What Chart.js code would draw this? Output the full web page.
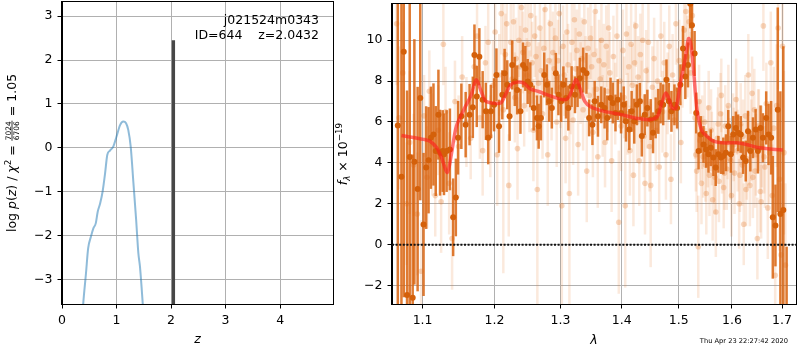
<!DOCTYPE html>
<html>
<head>
<meta charset="utf-8">
<title>j021524m0343 ID 644</title>
<script src="https://cdn.jsdelivr.net/npm/chart.js@4.4.1/dist/chart.umd.min.js"></script>
<style>
  body { margin: 0; background: #fff; }
  #wrap { position: relative; width: 800px; height: 350px; overflow: hidden; }
  canvas { position: absolute; top: 0; }
  #pz { left: 0; }
  #spec { left: 334px; }
</style>
</head>
<body>
<div id="wrap">
  <canvas id="pz" width="340" height="350"></canvas>
  <canvas id="spec" width="466" height="350"></canvas>
</div>
<script>
// ---- p(z) panel ----
const fieldName = 'j021524m0343';
const objId = 644;
const zBest = 2.0432;
const zLineTop = 2.45;
const chi2Num = 7024, chi2Den = 6706;
const zGrid = [0.35, 0.39, 0.44, 0.48, 0.53, 0.575, 0.62, 0.655, 0.70, 0.745,
               0.79, 0.83, 0.88, 0.94, 1.0, 1.065, 1.125, 1.175, 1.215, 1.26,
               1.31, 1.36, 1.40, 1.43, 1.48, 1.52];
const logPz = [-4.3, -3.53, -2.85, -2.28, -2.02, -1.83, -1.71, -1.45, -1.26, -0.99,
               -0.58, -0.16, -0.06, 0.03, 0.26, 0.52, 0.60, 0.56, 0.41, 0.03,
               -0.80, -1.64, -2.39, -2.70, -3.53, -4.3];
const zTicks = [0, 1, 2, 3, 4];
const pzTicks = [-3, -2, -1, 0, 1, 2, 3];
const zRange = [0, 4.97];
const pzRange = [-3.55, 3.32];

// ---- spectrum panel ----
const lamTicks = [1.1, 1.2, 1.3, 1.4, 1.5, 1.6, 1.7];
const fluxTicks = [-2, 0, 2, 4, 6, 8, 10];
const lamRange = [1.06, 1.729];
const fluxRange = [-2.9, 11.77];
const stamp = 'Thu Apr 23 22:27:42 2020';

// binned spectrum (dark points)
const binWave = [
  1.0675, 1.0722, 1.0752, 1.0795, 1.0830, 1.0869, 1.0891, 1.0934, 1.0969, 1.1013,
  1.1048, 1.1080, 1.1111, 1.1146, 1.1177, 1.1213, 1.1235, 1.1271, 1.1289, 1.1325,
  1.1370, 1.1415, 1.1452, 1.1483, 1.1529, 1.1589, 1.1644, 1.1690, 1.1713, 1.1746,
  1.1783, 1.1830, 1.1877, 1.1910, 1.1948, 1.1995, 1.2029, 1.2067, 1.2115, 1.2149,
  1.2188, 1.2222, 1.2261, 1.2300, 1.2335, 1.2384, 1.2423, 1.2458, 1.2493, 1.2533,
  1.2584, 1.2634, 1.2660, 1.2695, 1.2746, 1.2787, 1.2823, 1.2864, 1.2926, 1.2967,
  1.3009, 1.3045, 1.3087, 1.3124, 1.3176, 1.3229, 1.3271, 1.3308, 1.3361, 1.3415,
  1.3458, 1.3512, 1.3549, 1.3603, 1.3658, 1.3713, 1.3757, 1.3812, 1.3850, 1.3895,
  1.3933, 1.3989, 1.4034, 1.4073, 1.4129, 1.4169, 1.4214, 1.4259, 1.4311, 1.4345,
  1.4396, 1.4442, 1.4500, 1.4541, 1.4587, 1.4634, 1.4675, 1.4722, 1.4780, 1.4822,
  1.4869, 1.4923, 1.4971, 1.5031, 1.5079, 1.5121, 1.5170, 1.5212, 1.5243, 1.5292,
  1.5322, 1.5365, 1.5408, 1.5458, 1.5507, 1.5551, 1.5594, 1.5644, 1.5688, 1.5738,
  1.5789, 1.5833, 1.5884, 1.5928, 1.5979, 1.6024, 1.6075, 1.6120, 1.6172, 1.6217,
  1.6269, 1.6314, 1.6360, 1.6412, 1.6465, 1.6511, 1.6564, 1.6611, 1.6677, 1.6724,
  1.6777, 1.6811, 1.6865, 1.6912, 1.6966, 1.7027, 1.7095];
const binFlux = [
  5.83, 3.32, 9.43, -2.46, 4.29, -2.59, 4.05, 2.72, 7.17, 0.99,
  3.77, 4.13, 5.23, 5.39, 4.58, 6.36, 4.50, 4.58, 4.42, 4.58,
  4.66, 1.34, 2.31, 5.23, 6.28, 5.87, 6.36, 6.72, 9.27, 7.25,
  9.19, 7.09, 6.52, 5.23, 6.52, 6.84, 8.30, 5.79, 7.33, 8.38,
  7.82, 6.28, 8.79, 7.98, 7.57, 6.52, 8.79, 8.62, 7.98, 7.82,
  6.68, 6.20, 5.79, 6.20, 8.30, 7.82, 7.01, 6.68, 8.38, 7.33,
  7.01, 7.82, 7.17, 6.68, 7.73, 7.33, 7.73, 8.14, 8.54, 8.38,
  6.20, 5.87, 7.01, 6.28, 6.84, 6.68, 6.20, 7.17, 6.93, 6.44,
  7.09, 6.44, 6.84, 6.04, 5.63, 6.52, 6.04, 6.84, 7.01, 5.31,
  6.36, 6.68, 6.12, 5.47, 6.20, 6.52, 6.93, 6.84, 8.06, 7.01,
  6.52, 6.84, 6.68, 7.82, 9.60, 8.22, 8.79, 11.78, 10.73, 9.35,
  6.44, 4.58, 5.39, 4.90, 4.66, 4.42, 4.74, 4.26, 3.77, 4.42,
  4.26, 4.34, 4.50, 5.79, 4.42, 5.39, 5.71, 5.47, 5.39, 4.26,
  4.09, 5.55, 4.58, 5.23, 5.63, 4.58, 5.71, 5.23, 6.20, 5.39,
  5.23, 1.34, 0.94, 6.60, 1.50, 1.70, -4.5];
const binErr = [
  12, 12, 12, 10, 8, 7, 6, 5, 5, 3.5,
  3, 2.6, 2.5, 2.5, 2.2, 2.2, 2.1, 2.0, 2.0, 2.0,
  2.0, 1.9, 1.9, 1.8, 1.6, 1.6, 1.5, 1.5, 1.5, 1.5,
  1.4, 1.4, 1.4, 1.3, 1.3, 1.3, 1.3, 1.3, 1.2, 1.2,
  1.2, 1.2, 1.2, 1.2, 1.2, 1.1, 1.1, 1.1, 1.1, 1.1,
  1.1, 1.1, 1.1, 1.1, 1.1, 1.0, 1.0, 1.0, 1.0, 1.0,
  1.0, 0.9, 1.0, 1.1, 1.0, 0.9, 1.0, 1.0, 1.1, 1.0,
  0.9, 1.0, 1.0, 1.0, 0.9, 1.0, 1.1, 1.0, 1.0, 0.9,
  1.0, 1.0, 0.9, 1.0, 1.0, 1.0, 1.1, 1.0, 0.9, 1.0,
  1.0, 0.9, 1.0, 1.0, 1.0, 1.1, 1.0, 1.0, 1.0, 0.9,
  1.0, 1.0, 1.0, 1.0, 1.1, 1.1, 1.1, 1.2, 1.2, 1.1,
  1.0, 0.9, 0.9, 0.9, 0.9, 0.9, 0.9, 0.9, 0.9, 0.9,
  0.8, 0.9, 0.9, 0.8, 0.9, 0.9, 0.8, 0.9, 0.9, 0.8,
  1.0, 1.0, 1.0, 1.0, 1.0, 1.1, 1.1, 1.2, 1.3, 1.5,
  1.8, 3.0, 2.0, 5.0, 6.0, 8.0, 4.4];

// individual exposures (light points)
const rawWave = [
  1.066, 1.069, 1.074, 1.079, 1.083, 1.088, 1.093, 1.098,
  1.102, 1.106, 1.109, 1.113, 1.117, 1.121, 1.125, 1.128, 1.131, 1.136, 1.140, 1.144, 1.149, 1.154, 1.160, 1.166,
  1.171, 1.175, 1.179, 1.183, 1.187, 1.191, 1.194, 1.198, 1.201, 1.204, 1.207, 1.210, 1.213, 1.216, 1.218, 1.221,
  1.224, 1.226, 1.228, 1.230, 1.232, 1.234, 1.236, 1.238, 1.240, 1.242,
  1.244, 1.246, 1.248, 1.250, 1.252, 1.254, 1.256, 1.258, 1.260, 1.262,
  1.264, 1.266, 1.268, 1.270, 1.272, 1.274, 1.276, 1.278, 1.280, 1.282,
  1.284, 1.286, 1.288, 1.290, 1.292, 1.294, 1.296, 1.298, 1.300, 1.302,
  1.304, 1.306, 1.308,
  1.310, 1.312, 1.314, 1.316, 1.318, 1.320, 1.322, 1.324, 1.326, 1.328,
  1.330, 1.332, 1.334, 1.336, 1.338, 1.340, 1.342, 1.344, 1.346, 1.348,
  1.350, 1.352, 1.354, 1.356, 1.358, 1.360, 1.362, 1.364, 1.366, 1.368,
  1.370, 1.372, 1.374, 1.376, 1.378, 1.380, 1.383, 1.386, 1.389, 1.392,
  1.395, 1.397, 1.399,
  1.402, 1.404, 1.406, 1.408, 1.410, 1.412, 1.414, 1.416, 1.418, 1.420,
  1.422, 1.424, 1.426, 1.428, 1.430, 1.432, 1.434, 1.436, 1.438, 1.440,
  1.442, 1.444, 1.446, 1.448, 1.450, 1.453, 1.456, 1.459, 1.462, 1.465,
  1.468, 1.471, 1.474, 1.477, 1.480, 1.483, 1.486, 1.489, 1.492, 1.495,
  1.498, 1.501, 1.504, 1.507, 1.510, 1.513, 1.516, 1.519, 1.522, 1.525,
  1.530, 1.533, 1.536, 1.539, 1.542, 1.545, 1.548, 1.551, 1.554, 1.557,
  1.560, 1.563, 1.566, 1.569, 1.572, 1.575, 1.578, 1.581, 1.584, 1.587,
  1.590, 1.593, 1.596, 1.599,
  1.5315, 1.5375, 1.5435, 1.5495, 1.5555, 1.5615, 1.5675, 1.5735, 1.5795, 1.5855, 1.5915, 1.5975,
  1.602, 1.605, 1.608, 1.611, 1.614, 1.617, 1.620, 1.623, 1.626, 1.629,
  1.632, 1.635, 1.638, 1.641, 1.644, 1.647, 1.650, 1.653, 1.656, 1.659,
  1.662, 1.665, 1.668, 1.671, 1.674, 1.677, 1.680, 1.683, 1.686, 1.689,
  1.692, 1.695, 1.698, 1.701, 1.704, 1.707,
  1.6035, 1.6095, 1.6155, 1.6215, 1.6275, 1.6335, 1.6395, 1.6455, 1.6515, 1.6575, 1.6635];
const rawFlux = [
  10.8, 6.2, 8.4, 2.0, 5.0, 3.9, 1.5, -1.3,
  6.3, 3.3, 7.5, 4.9, 2.4, 5.6, 2.1, 9.8, 6.5, 3.0, 0.3, 7.0, 4.8, 8.2, 6.0, 5.2,
  8.7, 10.2, 6.2, 4.6, 8.9, 9.9, 5.3, 7.8, 10.4, 4.4, 8.3, 11.3, 6.6, 9.3, 10.8, 2.9,
  9.9, 8.1, 10.9, 7.2, 9.1, 4.7, 10.0, 8.7, 11.6, 9.4,
  6.8, 10.5, 8.3, 9.8, 7.5, 11.2, 8.9, 5.6, 10.2, 9.2,
  2.7, 7.9, 10.6, 8.5, 6.4, 9.6, 11.5, 8.0, 4.4, 9.0,
  10.8, 7.1, 9.4, 8.6, 10.1, 6.0, 9.0, 11.3, 7.7, 1.9,
  9.7, 8.3, 5.2,
  10.4, 8.8, 2.5, 7.4, 9.9, 6.1, 11.0, 8.6, 9.5, 4.9,
  10.3, 7.9, 9.1, 6.6, 10.9, 8.2, 3.6, 9.6, 7.3, 10.1,
  8.7, 5.5, 9.3, 11.4, 7.6, 4.3, 9.0, 8.1, 10.0, 6.3,
  8.8, 5.0, 9.7, 7.5, 10.6, 8.4, 4.1, 9.2, 6.9, 10.2,
  1.1, 8.0, 5.8,
  9.5, 7.2, 1.9, 10.3, 6.4, 8.7, 4.6, 9.8, 7.8, 3.4,
  8.9, 10.7, 6.0, 8.2, 4.1, 9.3, 7.0, 10.0, 5.3, 3.0,
  8.5, 6.7, 9.9, 4.8, 2.9, 7.7, 9.1, 5.6, 8.0, 3.8,
  10.2, 6.5, 8.9, 4.4, 7.4, 9.7, 3.2, 8.3, 6.1, 10.8,
  7.6, 9.0, 5.0, 8.7, 10.5, 11.4, 9.2, 10.9, 8.4, 11.2,
  6.2, 3.6, -0.1, 5.1, 3.0, 4.3, 6.0, 2.5, 4.8, 3.4,
  5.6, 2.2, 4.0, 1.6, 5.2, 3.1, 6.4, 4.5, 2.8, 5.8,
  3.7, 6.8, 4.2, 2.4,
  4.4, 7.0, 5.5, 3.9, 6.7, 4.7, 3.3, 5.9, 7.3, 3.5, 5.0, 4.1,
  5.4, 3.5, 7.1, 4.6, 2.0, 5.9, 3.9, 1.0, 6.3, 4.2,
  8.3, 2.9, 5.1, 3.3, 6.6, 4.4, 0.3, 5.6, 2.6, 4.8,
  10.7, 3.8, 6.9, 1.8, 4.5, 8.9, 2.4, 5.7, -1.5, 6.8,
  10.6, 3.2, -0.5, 9.7, 4.5, -1.0,
  4.9, 6.2, 3.4, 5.3, 2.7, 4.7, 7.4, 3.6, 5.8, 2.1, 4.3];
const rawErr = [
  3.0, 3.5, 2.5, 3.0, 3.5, 2.5, 3.0, 2.5,
  2.0, 2.5, 2.0, 2.5, 2.0, 2.2, 2.5, 2.0, 2.2, 2.5, 2.5, 2.0, 2.5, 2.0, 2.2, 2.0,
  1.8, 2.0, 2.0, 2.2, 1.8, 2.0, 2.0, 2.2, 2.0, 2.5, 2.0, 2.0, 8.0, 2.0, 1.8, 2.5,
  2.0, 1.8, 2.0, 2.2, 2.0, 2.5, 1.8, 2.0, 2.2, 2.0,
  2.0, 2.0, 1.8, 2.2, 2.0, 2.0, 2.0, 2.5, 2.0, 2.0,
  7.0, 2.0, 2.0, 2.0, 2.2, 2.0, 2.0, 2.0, 2.5, 2.0,
  2.0, 2.0, 2.0, 2.0, 2.0, 2.2, 2.0, 2.0, 2.0, 5.0,
  2.0, 2.0, 2.2,
  2.0, 2.0, 5.5, 2.0, 2.0, 2.2, 2.0, 2.0, 2.0, 2.5,
  2.0, 2.0, 2.0, 2.0, 2.0, 2.0, 2.5, 2.0, 2.0, 2.0,
  2.0, 2.2, 2.0, 2.0, 2.0, 2.5, 2.0, 2.0, 2.0, 2.0,
  2.0, 2.2, 2.0, 2.0, 2.0, 2.0, 2.5, 2.0, 2.0, 2.0,
  3.5, 2.0, 2.2,
  2.0, 2.0, 4.0, 2.0, 2.0, 2.0, 2.2, 2.0, 2.0, 2.5,
  2.0, 2.0, 2.0, 2.0, 2.2, 2.0, 2.0, 2.0, 2.0, 2.5,
  2.0, 2.0, 2.0, 2.2, 4.0, 2.0, 2.0, 2.0, 2.0, 2.2,
  2.0, 2.0, 2.0, 2.2, 2.0, 2.0, 2.2, 2.0, 2.0, 2.0,
  2.0, 2.0, 2.0, 2.0, 2.0, 2.0, 2.0, 2.0, 2.0, 2.0,
  2.0, 2.0, 2.5, 2.0, 2.0, 2.0, 2.0, 2.0, 2.0, 2.0,
  2.0, 2.0, 2.0, 2.2, 2.0, 2.0, 2.0, 2.0, 2.0, 2.0,
  2.0, 2.0, 2.0, 2.0,
  1.8, 1.8, 1.8, 1.8, 1.8, 1.8, 1.8, 1.8, 1.8, 1.8, 1.8, 1.8,
  2.0, 2.0, 2.0, 2.0, 2.2, 2.0, 2.0, 2.0, 2.0, 2.0,
  2.0, 2.0, 2.0, 2.0, 2.0, 2.0, 2.0, 2.0, 2.0, 2.0,
  2.2, 2.0, 2.0, 2.5, 2.5, 2.5, 2.5, 3.0, 3.0, 3.0,
  3.0, 3.5, 3.5, 3.0, 4.0, 4.0,
  1.8, 1.8, 1.8, 1.8, 1.8, 1.8, 1.8, 1.8, 1.8, 1.8, 1.8];

// best-fit template
const modelWave = [
  1.0722, 1.1013, 1.110, 1.119, 1.1255, 1.1335, 1.139, 1.146, 1.1575, 1.1667,
  1.1737, 1.181, 1.1877, 1.197, 1.209, 1.216, 1.224, 1.2335, 1.2433, 1.2533,
  1.266, 1.2864, 1.3066, 1.315, 1.324, 1.329, 1.3388, 1.3496, 1.3713, 1.399,
  1.427, 1.450, 1.462, 1.4704, 1.4768, 1.482, 1.488, 1.495, 1.5031, 1.5121,
  1.518, 1.522, 1.527, 1.534, 1.543, 1.552, 1.5644, 1.5833, 1.6088, 1.628,
  1.654, 1.7014];
const modelFlux = [
  5.34, 5.15, 5.06, 4.74, 4.26, 3.53, 4.42, 5.79, 6.68, 7.33,
  8.06, 7.49, 7.01, 6.93, 6.93, 7.33, 7.82, 7.95, 7.90, 7.62,
  7.49, 7.25, 7.09, 7.33, 8.06, 7.82, 7.01, 6.72, 6.52, 6.36,
  6.17, 6.12, 6.28, 7.01, 7.41, 7.17, 6.68, 6.68, 7.90, 9.11,
  10.08, 9.84, 8.62, 6.52, 5.55, 5.31, 5.06, 4.98, 4.98, 4.90,
  4.74, 4.63];

const FONT = '"DejaVu Sans"';
Chart.defaults.font.family = "'DejaVu Sans', sans-serif";
Chart.defaults.font.size = 12.5;
Chart.defaults.color = '#000';
Chart.defaults.animation = false;
Chart.defaults.events = [];
Chart.defaults.plugins.legend.display = false;
Chart.defaults.plugins.tooltip.enabled = false;

const pts = (xs, ys) => xs.map((x, i) => ({ x, y: ys[i] }));
const minus = v => (v < 0 ? '\u2212' + Math.abs(v) : String(v));

function axis(range, ticks, type, fit, label) {
  return {
    type,
    min: range[0],
    max: range[1],
    afterBuildTicks: s => { s.ticks = ticks.map(value => ({ value })); },
    afterFit: fit,
    grid: { color: '#b0b0b0', lineWidth: 1, tickLength: 4.5, tickColor: '#000', tickWidth: 1 },
    border: { color: '#000', width: 1 },
    ticks: { color: '#000', font: { size: 12.5 }, padding: 5, autoSkip: false, maxRotation: 0, callback: label }
  };
}
const fitX = s => { s.height = 46; s.paddingLeft = 0; s.paddingRight = 0; };
const fitY = w => s => { s.width = w; s.paddingTop = 0; s.paddingBottom = 0; };

// error bars, drawn just under the points of a dataset
const errorBars = {
  id: 'errorBars',
  beforeDatasetDraw(chart, args) {
    const ds = chart.data.datasets[args.index];
    if (!ds.errors) return;
    const { ctx, chartArea: a, scales: { x, y } } = chart;
    ctx.save();
    ctx.beginPath();
    ctx.rect(a.left, a.top, a.right - a.left, a.bottom - a.top);
    ctx.clip();
    ctx.strokeStyle = ds.barColor;
    ctx.lineWidth = ds.barWidth;
    ds.data.forEach((p, i) => {
      const px = x.getPixelForValue(p.x);
      ctx.beginPath();
      ctx.moveTo(px, y.getPixelForValue(p.y - ds.errors[i]));
      ctx.lineTo(px, y.getPixelForValue(p.y + ds.errors[i]));
      ctx.stroke();
    });
    ctx.restore();
  }
};

const frame = {
  id: 'frame',
  afterDatasetsDraw(chart) {
    const { ctx, chartArea: a } = chart;
    ctx.save();
    ctx.strokeStyle = '#000';
    ctx.lineWidth = 1;
    ctx.strokeRect(Math.round(a.left) - 0.5, Math.round(a.top) - 0.5,
      Math.round(a.right - a.left) + 1, Math.round(a.bottom - a.top) + 1);
    ctx.restore();
  }
};

// mathtext-like label on a rotated baseline
function drawRich(ctx, segs, size) {
  const small = size * 0.7, fracSize = size * 0.6;
  const fontFor = (s, sz) => (s.it ? 'italic ' : '') + sz + 'px ' + FONT;
  const widths = segs.map(s => {
    if (s.frac) {
      ctx.font = fontFor(s, fracSize);
      return Math.max(...s.frac.map(t => ctx.measureText(t).width)) + 2;
    }
    ctx.font = fontFor(s, s.sup || s.sub ? small : size);
    return ctx.measureText(s.t).width;
  });
  let x = -widths.reduce((a, b) => a + b, 0) / 2;
  ctx.textBaseline = 'alphabetic';
  segs.forEach((s, i) => {
    const w = widths[i];
    if (s.frac) {
      ctx.font = fontFor(s, fracSize);
      ctx.textAlign = 'center';
      ctx.fillText(s.frac[0], x + w / 2, -5.4);
      ctx.fillText(s.frac[1], x + w / 2, 3.2);
      ctx.fillRect(x + 0.5, -4.4, w - 1, 0.8);
    } else {
      ctx.textAlign = 'left';
      ctx.font = fontFor(s, s.sup || s.sub ? small : size);
      ctx.fillText(s.t, x, s.sup ? -5 : s.sub ? 3 : 0);
    }
    x += w;
  });
}

const pzTitle = [
  { t: 'log ' }, { t: 'p', it: 1 }, { t: '(' }, { t: 'z', it: 1 }, { t: ')' }, { t: ' / ' },
  { t: '\u03c7', it: 1 }, { t: '2', sup: 1 }, { t: ' = ' },
  { frac: [String(chi2Num), String(chi2Den)] },
  { t: ' = ' + (chi2Num / chi2Den).toFixed(2) }
];
const specTitle = [
  { t: 'f', it: 1 }, { t: '\u03bb', it: 1, sub: 1 }, { t: ' \u00d7 10' }, { t: '\u221219', sup: 1 }
];

const pzText = {
  id: 'pzText',
  afterDraw(chart) {
    const { ctx, chartArea: a } = chart;
    ctx.save();
    ctx.fillStyle = '#000';
    ctx.font = '12.5px ' + FONT;
    ctx.textAlign = 'right';
    ctx.textBaseline = 'alphabetic';
    ctx.fillText(fieldName, a.right - 14, a.top + 22);
    ctx.fillText('ID=' + objId + '    z=' + zBest.toFixed(4), a.right - 14, a.top + 36.5);
    ctx.font = 'italic 12.5px ' + FONT;
    ctx.textAlign = 'center';
    ctx.fillText('z', (a.left + a.right) / 2, 343);
    ctx.translate(16, (a.top + a.bottom) / 2);
    ctx.rotate(-Math.PI / 2);
    drawRich(ctx, pzTitle, 12.5);
    ctx.restore();
  }
};

const specText = {
  id: 'specText',
  afterDraw(chart) {
    const { ctx, chartArea: a } = chart;
    ctx.save();
    ctx.fillStyle = '#000';
    ctx.textBaseline = 'alphabetic';
    ctx.font = 'italic 12.5px ' + FONT;
    ctx.textAlign = 'center';
    ctx.fillText('\u03bb', (a.left + a.right) / 2, 344);
    ctx.font = '6.7px ' + FONT;
    ctx.textAlign = 'right';
    ctx.fillText(stamp, 454, 343);
    ctx.translate(13, (a.top + a.bottom) / 2);
    ctx.rotate(-Math.PI / 2);
    drawRich(ctx, specTitle, 12.5);
    ctx.restore();
  }
};

new Chart(document.getElementById('pz'), {
  type: 'scatter',
  data: {
    datasets: [
      {
        data: pts([zBest, zBest], [pzRange[0], zLineTop]),
        showLine: true, pointRadius: 0, borderColor: '#474747', borderWidth: 3.3, clip: 0
      },
      {
        data: pts(zGrid, logPz),
        showLine: true, pointRadius: 0, borderColor: 'rgba(31,119,180,0.5)', borderWidth: 2,
        cubicInterpolationMode: 'monotone', clip: 0
      }
    ]
  },
  options: {
    responsive: false,
    layout: { padding: { top: 2, right: 7, left: 0, bottom: 0 } },
    scales: {
      x: axis(zRange, zTicks, 'linear', fitX, minus),
      y: axis(pzRange, pzTicks, 'linear', fitY(62), minus)
    }
  },
  plugins: [frame, pzText]
});

const specX = axis(lamRange, lamTicks, 'logarithmic', fitX, v => Number(v).toFixed(1));

new Chart(document.getElementById('spec'), {
  type: 'scatter',
  data: {
    datasets: [
      {
        data: pts(lamRange, [0, 0]),
        showLine: true, pointRadius: 0, borderColor: '#111', borderWidth: 2,
        borderDash: [2, 1.6], clip: 0
      },
      {
        data: pts(modelWave, modelFlux),
        showLine: true, pointRadius: 0, borderColor: 'rgba(255,30,30,0.62)', borderWidth: 3.5,
        tension: 0.3, clip: 0
      },
      {
        data: pts(binWave, binFlux),
        pointRadius: 3, backgroundColor: '#d4600a', borderWidth: 0, clip: 0,
        errors: binErr, barColor: 'rgba(217,100,15,0.85)', barWidth: 2.5
      },
      {
        data: pts(rawWave, rawFlux),
        pointRadius: 2.8, backgroundColor: 'rgba(230,125,50,0.3)', borderWidth: 0, clip: 0,
        errors: rawErr, barColor: 'rgba(230,125,50,0.17)', barWidth: 2.5
      }
    ]
  },
  options: {
    responsive: false,
    layout: { padding: { top: 2, right: 1, left: 0, bottom: 0 } },
    scales: {
      x: specX,
      y: axis(fluxRange, fluxTicks, 'linear', fitY(58), minus)
    }
  },
  plugins: [errorBars, frame, specText]
});
</script>
</body>
</html>
